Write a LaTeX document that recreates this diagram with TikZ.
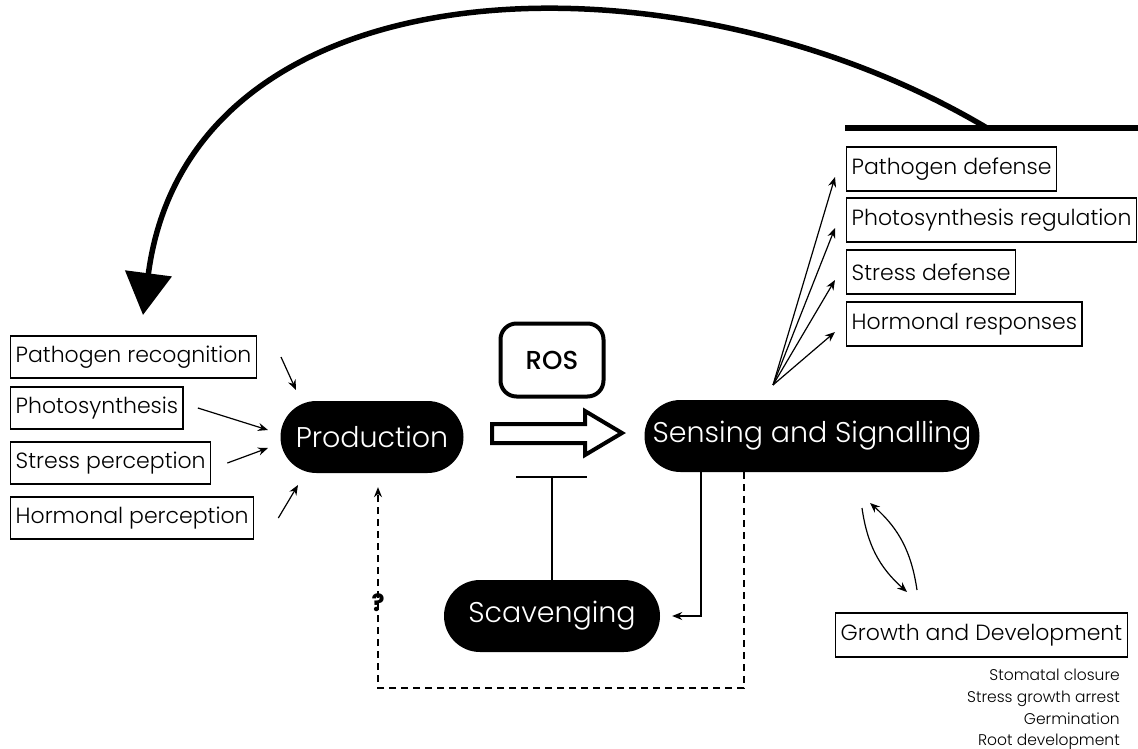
\documentclass[tikz,border=0pt]{standalone}
\usepackage{fontspec}
\IfFontExistsTF{Poppins Light}{\setmainfont{Poppins Light}}{\setmainfont{Poppins}}
\IfFontExistsTF{Poppins Medium}{\newfontfamily\heavyfont{Poppins Medium}}{\newfontfamily\heavyfont{Poppins}}
\newfontfamily\markfont{Poppins}
\usetikzlibrary{arrows.meta}

\tikzset{
  box/.style={draw, line width=1.4pt, anchor=west, inner sep=5pt,
    minimum height=42pt, font=\fontsize{22}{26}\selectfont},
  blob/.style={fill=black, text=white, rounded corners=36pt,
    minimum height=72pt, font=\fontsize{28.5}{33}\selectfont},
  feed/.style={line width=1.2pt, -{Stealth[length=10pt,width=8pt]}},
}

\begin{document}
\begin{tikzpicture}[x=1pt,y=-1pt]
  \useasboundingbox (0,0) rectangle (1138,749);

  \node[blob, minimum width=183pt] (prod) at (372,437) {Production};
  \node[blob, minimum width=335pt] (sens) at (812,436) {Sensing and Signalling};
  \node[blob, minimum width=216pt] (scav) at (552,616) {Scavenging};
  \node[draw, line width=4pt, rounded corners=16pt, minimum width=103pt,
    minimum height=73pt, font=\heavyfont\fontsize{26}{30}\selectfont] (ros) at (552,360) {ROS};

  % what makes ROS
  \foreach \name/\y/\txt in {rec/357/Pathogen recognition, photo/408/Photosynthesis,
      stress/463/Stress perception, horm/518/Hormonal perception}
    \node[box] (\name) at (10,\y) {\txt};
  \coordinate (in-rec) at (296,390);
  \coordinate (in-photo) at (268,430);
  \coordinate (in-stress) at (268,448);
  \coordinate (in-horm) at (298,485);
  \foreach \name/\gap in {rec/24, photo/14, stress/16, horm/24}
    \draw[feed] ([xshift=\gap pt]\name.east) -- (in-\name);

  % what ROS signals to
  \coordinate (fan) at (773,385);
  \foreach \name/\y/\txt in {pdef/169/Pathogen defense, preg/220/Photosynthesis regulation,
      sdef/272/Stress defense, hresp/324/Hormonal responses}
    \node[box, minimum height=44pt] (\name) at (846,\y) {\txt};
  \foreach \name in {pdef, preg, sdef, hresp}
    \draw[feed] (fan) -- ([xshift=-11pt,yshift=-8pt]\name.west);

  % long way back
  \coordinate (bar-l) at (845,128);
  \coordinate (bar-r) at (1138,128);
  \coordinate (bend) at (987,128);
  \coordinate (back) at (143,315);
  \draw[line width=6pt] (bar-l) -- (bar-r);
  \draw[line width=5.5pt, -{Triangle[length=42pt,width=46pt]}]
    (bend) .. controls (680,-55) and (190,-45) .. (back);

  % ROS arrow
  \draw[line width=4pt, line join=miter] (492,424) -- (585,424) -- (585,411) -- (622,433)
    -- (585,455) -- (585,443) -- (492,443) -- cycle;

  % scavenging
  \coordinate (stop) at (552,477);
  \draw[line width=1.2pt] (scav.north) -- (stop);
  \draw[line width=1.5pt] ([xshift=-36pt]stop) -- ([xshift=35pt]stop);
  \coordinate (sig-out) at (701,472);
  \draw[feed] (sig-out) |- ([xshift=12pt]scav.east);

  \coordinate (dash-out) at (744,472);
  \coordinate (loop) at (378,688);
  \draw[feed, dashed, dash pattern=on 7pt off 5pt] (dash-out) |- (loop)
    -- ([xshift=6pt,yshift=-14pt]prod.south);
  \node[font=\markfont\bfseries\fontsize{24}{28}\selectfont] (q) at (378,603) {?};

  % growth
  \node[box, minimum height=44pt] (grow) at (835,635) {Growth and Development};
  \node[anchor=north east, align=right, inner sep=0pt,
    font=\fontsize{15.5}{21.7}\selectfont] (gitems) at (1120,669)
    {Stomatal closure\\Stress growth arrest\\Germination\\Root development};
  \coordinate (dn-a) at (862,508);
  \coordinate (dn-b) at (907,592);
  \coordinate (up-a) at (917,590);
  \coordinate (up-b) at (870,503);
  \draw[feed] (dn-a) to[bend right=20] (dn-b);
  \draw[feed] (up-a) to[bend right=20] (up-b);
\end{tikzpicture}
\end{document}
